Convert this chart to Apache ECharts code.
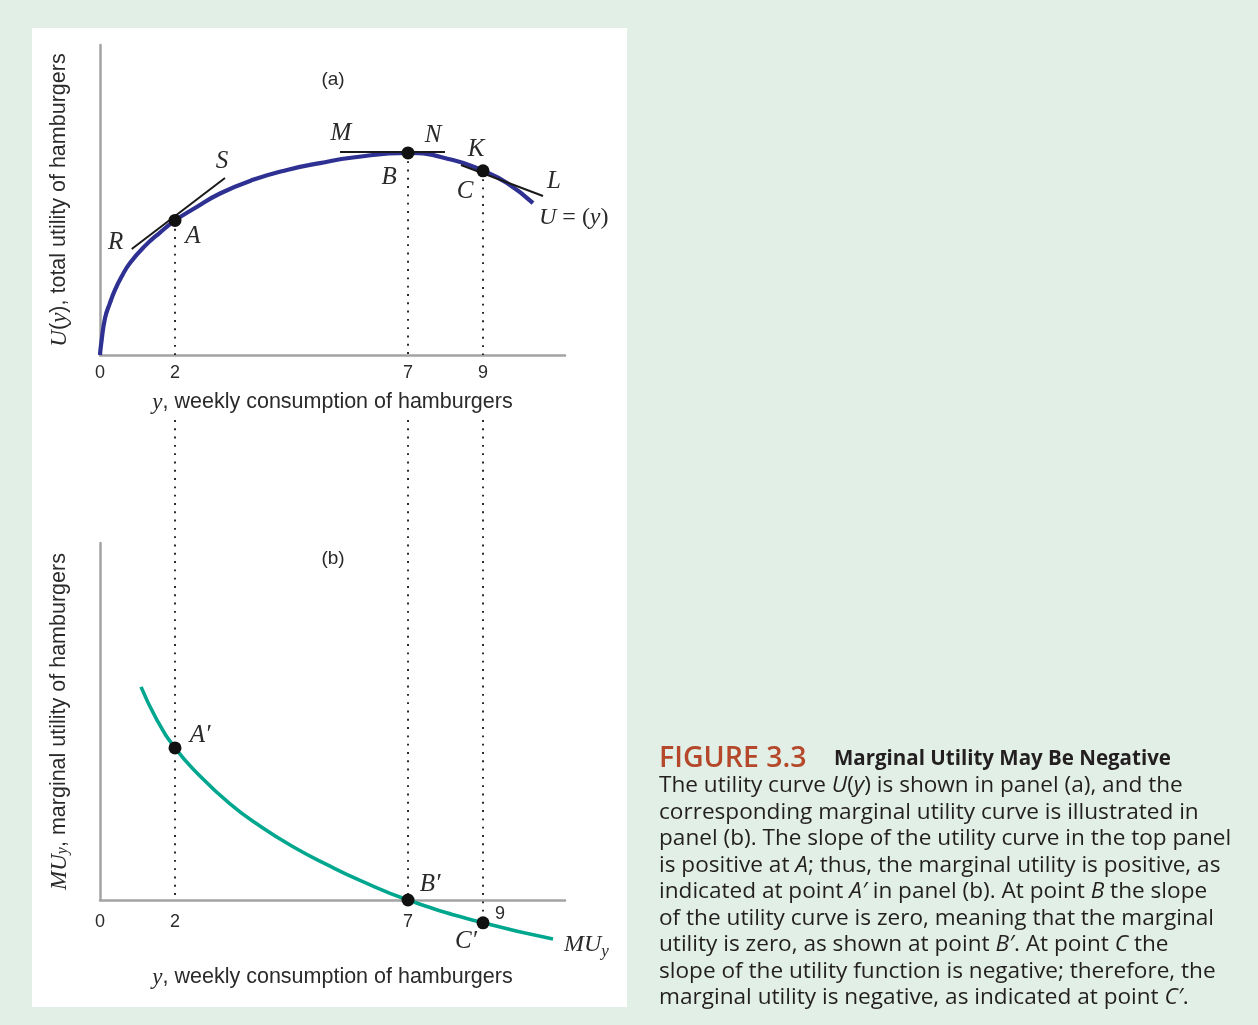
<!DOCTYPE html>
<html><head><meta charset="utf-8">
<script src="https://cdn.jsdelivr.net/npm/echarts@6/dist/echarts.min.js"></script>
<style>
html,body{margin:0;padding:0;background:#e1efe6;width:1258px;height:1025px;overflow:hidden;}
#panel{position:absolute;left:32px;top:28px;width:595px;height:979px;background:#fff;}
#chart{position:absolute;left:0;top:0;width:1258px;height:1025px;}
</style></head><body>
<div id="panel"></div><div id="chart"></div>
<script>
// ---- DATA (schematic x scale of the figure; labels give consumption y) ----
const tickPositions = [0, 1.613, 6.624, 8.237];
const tickLabels = ['0', '2', '7', '9'];

// Panel (a): total utility curve U(y)
const utilityX = [0, 0.022, 0.108, 0.215, 0.323, 0.473, 0.645, 0.968, 1.290, 1.613, 2.043, 2.581, 3.290, 4.022, 4.731, 5.441, 6.624, 7.591, 8.237, 8.753, 9.312];
const utilityY = [0, 0.32, 1.19, 1.68, 2.10, 2.55, 2.97, 3.52, 3.95, 4.34, 4.74, 5.21, 5.65, 5.97, 6.19, 6.37, 6.52, 6.29, 5.94, 5.55, 4.90];

// Points A, B, C on U(y)
const pointNames = ['A', 'B', 'C'];
const pointX = [1.613, 6.624, 8.237];
const pointU = [4.34, 6.52, 5.94];

// Tangent segments and their end names
const tangentRS = [[0.682, 3.42], [2.688, 5.71]];
const tangentMN = [[5.161, 6.55], [7.419, 6.55]];
const tangentKL = [[7.763, 6.13], [9.527, 5.13]];
const tangentNames = [['R', 'S'], ['M', 'N'], ['K', 'L']];

// Panel (b): marginal utility curve MU_y
const muX = [0.882, 1.226, 1.613, 2.086, 2.796, 3.441, 4.151, 4.882, 5.591, 6.624, 8.237, 9.742];
const muY = [5.97, 5.04, 4.26, 3.56, 2.69, 2.07, 1.49, 0.99, 0.55, 0, -0.64, -1.09];
const primeNames = ['A\u2032', 'B\u2032', 'C\u2032'];
const pointMU = [4.26, 0, -0.64];

// ---- STYLE / LAYOUT ----
const AXIS_COLOR = '#a3a3a3';
const TEXT = '#2a2a2a';
const SANS = 'Liberation Sans, Arial, sans-serif';
const SERIF = 'Liberation Serif, Times New Roman, serif';
const italicSerif = {fontFamily: SERIF, fontStyle: 'italic', fontSize: 25, color: TEXT};
const tangentLabelOffsets = [[[-16, -7], [-3, -17]], [[1, -19], [-12, -17]], [[15, -16], [11, -15]]];
const pointLabelOffsets = [[18, 16], [-19, 25], [-18, 21]];
const primeLabelOffsets = [[25, -12], [22, -16], [-17, 19]];
const dotted = {color: '#222', width: 1.9, type: [1.9, 6.4]};
const TOP_MAX_B = 13.445; // bottom-panel axis extends up into the gap

function tickFormatter(v) {
  const i = tickPositions.findIndex(p => Math.abs(p - v) < 1e-6);
  return i >= 0 ? tickLabels[i] : '';
}
const tickLabelStyle = {fontFamily: SANS, fontSize: 18, color: TEXT};
const nameRich = {i: {fontFamily: SERIF, fontStyle: 'italic', fontSize: 23, color: TEXT},
                  sub: {fontFamily: SERIF, fontStyle: 'italic', fontSize: 16, color: TEXT, verticalAlign: 'bottom'}};
const nameStyle = {fontFamily: SANS, fontSize: 21.5, color: TEXT, rich: nameRich};

const series = [];
// utility curve
series.push({type: 'line', xAxisIndex: 0, yAxisIndex: 0, smooth: 0.5, showSymbol: false, clip: false,
  data: utilityX.map((x, i) => [x, utilityY[i]]), lineStyle: {color: '#2e3192', width: 4.2}, z: 3,
  endLabel: {show: true, formatter: '{i|U} = ({i|y})', offset: [-2, 15], fontFamily: SERIF, fontSize: 24, color: TEXT,
    rich: {i: {fontFamily: SERIF, fontStyle: 'italic', fontSize: 24, color: TEXT}}}});
// tangents
[tangentRS, tangentMN, tangentKL].forEach((seg, k) => {
  series.push({type: 'line', xAxisIndex: 0, yAxisIndex: 0, symbol: 'circle', symbolSize: 1, showSymbol: true,
    itemStyle: {color: 'rgba(0,0,0,0)'}, lineStyle: {color: '#1a1a1a', width: 2}, z: 4,
    data: seg.map((p, j) => ({value: p, label: Object.assign({show: true, position: 'inside', formatter: tangentNames[k][j], offset: tangentLabelOffsets[k][j]}, italicSerif)}))});
});
// dotted drop lines, top
pointX.forEach((x, i) => {
  series.push({type: 'line', xAxisIndex: 0, yAxisIndex: 0, showSymbol: false, lineStyle: dotted, z: 2,
    data: [[x, pointU[i]], [x, 0]]});
});
// points A B C
series.push({type: 'scatter', xAxisIndex: 0, yAxisIndex: 0, symbolSize: 13, itemStyle: {color: '#111', opacity: 1}, z: 6,
  data: pointX.map((x, i) => ({value: [x, pointU[i]], label: Object.assign({show: true, position: 'inside', formatter: pointNames[i], offset: pointLabelOffsets[i]}, italicSerif)}))});

// bottom: MU curve
series.push({type: 'line', xAxisIndex: 1, yAxisIndex: 1, smooth: 0.5, showSymbol: false, clip: false,
  data: muX.map((x, i) => [x, muY[i]]), lineStyle: {color: '#00a78e', width: 3.6}, z: 3,
  endLabel: {show: true, formatter: '{i|MU}{s|y}', offset: [3, 6], rich: {
    i: {fontFamily: SERIF, fontStyle: 'italic', fontSize: 24, color: TEXT},
    s: {fontFamily: SERIF, fontStyle: 'italic', fontSize: 17, color: TEXT, padding: [14, 0, 0, 0]}}}});
// dotted lines through the gap and down to the primes
pointX.forEach((x, i) => {
  series.push({type: 'line', xAxisIndex: 1, yAxisIndex: 1, showSymbol: false, lineStyle: dotted, z: 2, clip: false,
    data: [[x, TOP_MAX_B], [x, Math.min(0, pointMU[i])]]});
});
// primes
series.push({type: 'scatter', xAxisIndex: 1, yAxisIndex: 1, symbolSize: 13, itemStyle: {color: '#111', opacity: 1}, z: 6, clip: false,
  data: pointX.map((x, i) => ({value: [x, pointMU[i]], label: Object.assign({show: true, position: 'inside', formatter: primeNames[i], offset: primeLabelOffsets[i]}, italicSerif)}))});
// "9" tick label of panel (b), set beside C'
series.push({type: 'scatter', xAxisIndex: 1, yAxisIndex: 1, symbolSize: 1, itemStyle: {color: 'rgba(0,0,0,0)', opacity: 1}, z: 6, clip: false,
  data: [{value: [pointX[2], pointMU[2]], label: {show: true, position: 'inside', formatter: tickLabels[3], offset: [17, -9], fontFamily: SANS, fontSize: 18, color: TEXT}}]});

const caption = [
  '{fig|FIGURE 3.3}{hd|Marginal Utility May Be Negative}',
  'The utility curve {i|U}({i|y}) is shown in panel (a), and the',
  'corresponding marginal utility curve is illustrated in',
  'panel (b). The slope of the utility curve in the top panel',
  'is positive at {i|A}; thus, the marginal utility is positive, as',
  'indicated at point {i|A\u2032} in panel (b). At point {i|B} the slope',
  'of the utility curve is zero, meaning that the marginal',
  'utility is zero, as shown at point {i|B\u2032}. At point {i|C} the',
  'slope of the utility function is negative; therefore, the',
  'marginal utility is negative, as indicated at point {i|C\u2032}.'
].join('\n');
const CAP = 'Open Sans, Noto Sans, sans-serif';
const CAP_SIZE = 22.6;
const LH = 26.5;

const option = {
  animation: false,
  backgroundColor: 'transparent',
  title: {left: 659, top: 746, padding: 0, text: caption, textStyle: {fontFamily: CAP, fontSize: CAP_SIZE, color: '#231f20', lineHeight: LH, fontWeight: 'normal',
    rich: {
      fig: {fontFamily: CAP, fontSize: 28.5, color: '#b5482a', fontWeight: 600, lineHeight: LH, width: 175},
      hd: {fontFamily: CAP, fontSize: 20.5, color: '#231f20', fontWeight: 'bold', lineHeight: LH},
      i: {fontFamily: CAP, fontSize: CAP_SIZE, color: '#231f20', fontStyle: 'italic', lineHeight: LH}
    }}},
  graphic: [
    {type: 'text', x: 333, y: 80, style: {text: '(a)', font: '19px ' + SANS, fill: TEXT, align: 'center', verticalAlign: 'middle'}},
    {type: 'text', x: 333, y: 559, style: {text: '(b)', font: '19px ' + SANS, fill: TEXT, align: 'center', verticalAlign: 'middle'}}
  ],
  grid: [
    {left: 100, top: 45, width: 465, height: 310, outerBoundsMode: 'none'},
    {left: 100, top: 420, width: 465, height: 480, outerBoundsMode: 'none'},
    {left: 100, top: 543, width: 465, height: 357, outerBoundsMode: 'none'}
  ],
  xAxis: [
    {gridIndex: 0, type: 'value', min: 0, max: 10, splitLine: {show: false}, axisTick: {show: false},
     axisLine: {lineStyle: {color: AXIS_COLOR, width: 2.5}},
     axisLabel: Object.assign({customValues: tickPositions, formatter: tickFormatter, margin: 9}, tickLabelStyle),
     name: '{i|y}, weekly consumption of hamburgers', nameLocation: 'middle', nameGap: 36, nameTextStyle: nameStyle},
    {gridIndex: 1, type: 'value', min: 0, max: 10, splitLine: {show: false}, axisTick: {show: false},
     axisLine: {onZero: false, lineStyle: {color: AXIS_COLOR, width: 2.5}},
     axisLabel: Object.assign({customValues: tickPositions.slice(0, 3), formatter: tickFormatter, margin: 13}, tickLabelStyle),
     name: '{i|y}, weekly consumption of hamburgers', nameLocation: 'middle', nameGap: 66, nameTextStyle: nameStyle},
    {gridIndex: 2, type: 'value', min: 0, max: 10, show: false}
  ],
  yAxis: [
    {gridIndex: 0, type: 'value', min: 0, max: 10, splitLine: {show: false}, axisTick: {show: false}, axisLabel: {show: false},
     axisLine: {lineStyle: {color: AXIS_COLOR, width: 2.5}},
     name: '{i|U}({i|y}), total utility of hamburgers', nameLocation: 'middle', nameRotate: 90, nameGap: 29, nameTextStyle: nameStyle},
    {gridIndex: 1, type: 'value', min: 0, max: TOP_MAX_B, show: false},
    {gridIndex: 2, type: 'value', min: 0, max: 10, splitLine: {show: false}, axisTick: {show: false}, axisLabel: {show: false},
     axisLine: {lineStyle: {color: AXIS_COLOR, width: 2.5}},
     name: '{i|MU}{sub|y}, marginal utility of hamburgers', nameLocation: 'middle', nameRotate: 90, nameGap: 29, nameTextStyle: nameStyle}
  ],
  series: series
};
const chart = echarts.init(document.getElementById('chart'), null, {renderer: 'canvas'});
chart.setOption(option);
</script>
</body></html>
